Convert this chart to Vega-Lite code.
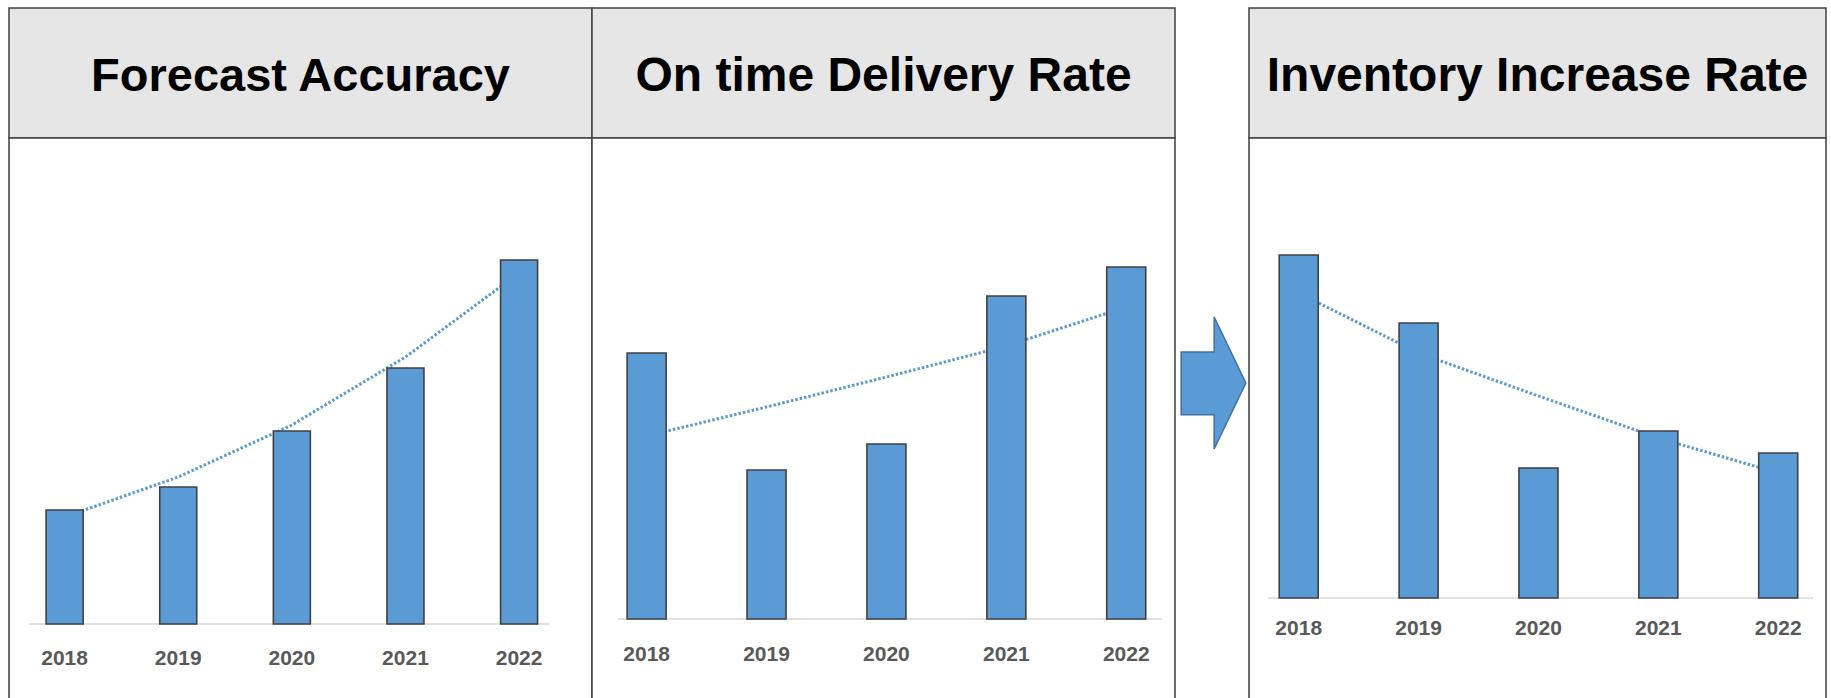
{
  "$schema": "https://vega.github.io/schema/vega-lite/v6.json",
  "padding": {"left": 8, "top": 7, "right": 0, "bottom": 0},
  "background": "white",
  "columns": 4,
  "spacing": 0,
  "bounds": "flush",
  "align": "each",
  "config": {"view": {"stroke": null}},
  "datasets": {
    "fa": [
      {"year": 2018, "value": 114, "trend": 107},
      {"year": 2019, "value": 137, "trend": 147},
      {"year": 2020, "value": 193, "trend": 199},
      {"year": 2021, "value": 256, "trend": 267},
      {"year": 2022, "value": 364, "trend": 351}
    ],
    "otd": [
      {"year": 2018, "value": 266, "trend": 183},
      {"year": 2019, "value": 149, "trend": 212},
      {"year": 2020, "value": 175, "trend": 242},
      {"year": 2021, "value": 323, "trend": 273},
      {"year": 2022, "value": 352, "trend": 312}
    ],
    "inv": [
      {"year": 2018, "value": 343, "trend": 305},
      {"year": 2019, "value": 275, "trend": 245},
      {"year": 2020, "value": 130, "trend": 202},
      {"year": 2021, "value": 167, "trend": 160},
      {"year": 2022, "value": 145, "trend": 125}
    ]
  },
  "concat": [
    {
      "width": 583, "height": 130,
      "view": {"fill": "#e7e6e6", "stroke": "#404040", "strokeWidth": 1.5},
      "data": {"values": [{"t": "Forecast Accuracy"}]},
      "mark": {"type": "text", "font": "Liberation Sans", "fontWeight": "bold", "fontSize": 47, "color": "#000000", "baseline": "middle", "align": "center", "dy": 4},
      "encoding": {"text": {"field": "t", "type": "nominal"}}
    },
    {
      "width": 583, "height": 130,
      "view": {"fill": "#e7e6e6", "stroke": "#404040", "strokeWidth": 1.5},
      "data": {"values": [{"t": "On time Delivery Rate"}]},
      "mark": {"type": "text", "font": "Liberation Sans", "fontWeight": "bold", "fontSize": 48, "color": "#000000", "baseline": "middle", "align": "center", "dy": 4},
      "encoding": {"text": {"field": "t", "type": "nominal"}}
    },
    {
      "width": 74, "height": 130,
      "view": {"stroke": null},
      "data": {"values": [{"t": ""}]},
      "mark": {"type": "text", "opacity": 0},
      "encoding": {"text": {"field": "t", "type": "nominal"}}
    },
    {
      "width": 577, "height": 130,
      "view": {"fill": "#e7e6e6", "stroke": "#404040", "strokeWidth": 1.5},
      "data": {"values": [{"t": "Inventory Increase Rate"}]},
      "mark": {"type": "text", "font": "Liberation Sans", "fontWeight": "bold", "fontSize": 48, "color": "#000000", "baseline": "middle", "align": "center", "dy": 4},
      "encoding": {"text": {"field": "t", "type": "nominal"}}
    },
    {
      "width": 583, "height": 561,
      "view": {"fill": "white", "stroke": "#404040", "strokeWidth": 1.5},
      "data": {"name": "fa"},
      "layer": [
        {
          "data": {"values": [{"k": "axis"}]},
          "mark": {"type": "rule", "color": "#d9d9d9", "strokeWidth": 1.5},
          "encoding": {
            "x": {"datum": 2017.684, "type": "quantitative", "scale": {"domain": [2017.5545, 2022.5978], "nice": false, "zero": false}, "axis": null},
            "x2": {"datum": 2022.269},
            "y": {"datum": 0, "type": "quantitative", "scale": {"domain": [-75, 486], "nice": false, "zero": false}, "axis": null}
          }
        },
        {
          "mark": {"type": "line", "color": "#5b9bd5", "strokeWidth": 3, "strokeDash": [2.5, 2]},
          "encoding": {
            "x": {"field": "year", "type": "quantitative"},
            "y": {"field": "trend", "type": "quantitative"}
          }
        },
        {
          "mark": {"type": "bar", "orient": "vertical", "width": 37, "fill": "#5b9bd5", "stroke": "#404040", "strokeWidth": 1.6},
          "encoding": {
            "x": {"field": "year", "type": "quantitative"},
            "y": {"field": "value", "type": "quantitative"}
          }
        },
        {
          "mark": {"type": "text", "font": "Liberation Sans", "fontWeight": "bold", "fontSize": 21, "color": "#595959", "baseline": "middle", "align": "center"},
          "encoding": {
            "x": {"field": "year", "type": "quantitative"},
            "y": {"datum": -35, "type": "quantitative"},
            "text": {"field": "year", "type": "nominal"}
          }
        }
      ]
    },
    {
      "width": 583, "height": 561,
      "view": {"fill": "white", "stroke": "#404040", "strokeWidth": 1.5},
      "data": {"name": "otd"},
      "layer": [
        {
          "data": {"values": [{"k": "axis"}]},
          "mark": {"type": "rule", "color": "#d9d9d9", "strokeWidth": 1.5},
          "encoding": {
            "x": {"datum": 2017.758, "type": "quantitative", "scale": {"domain": [2017.586, 2022.365], "nice": false, "zero": false}, "axis": null},
            "x2": {"datum": 2022.299},
            "y": {"datum": 0, "type": "quantitative", "scale": {"domain": [-80, 481], "nice": false, "zero": false}, "axis": null}
          }
        },
        {
          "mark": {"type": "line", "color": "#5b9bd5", "strokeWidth": 3, "strokeDash": [2.5, 2]},
          "encoding": {
            "x": {"field": "year", "type": "quantitative"},
            "y": {"field": "trend", "type": "quantitative"}
          }
        },
        {
          "mark": {"type": "bar", "orient": "vertical", "width": 39, "fill": "#5b9bd5", "stroke": "#404040", "strokeWidth": 1.6},
          "encoding": {
            "x": {"field": "year", "type": "quantitative"},
            "y": {"field": "value", "type": "quantitative"}
          }
        },
        {
          "mark": {"type": "text", "font": "Liberation Sans", "fontWeight": "bold", "fontSize": 21, "color": "#595959", "baseline": "middle", "align": "center"},
          "encoding": {
            "x": {"field": "year", "type": "quantitative"},
            "y": {"datum": -36, "type": "quantitative"},
            "text": {"field": "year", "type": "nominal"}
          }
        }
      ]
    },
    {
      "width": 74, "height": 561,
      "view": {"stroke": null},
      "data": {"values": [{"k": "arrow"}]},
      "mark": {"type": "point", "shape": "M-0.49,-0.47L0.01,-0.47L0.01,-1L0.49,0L0.01,1L0.01,0.48L-0.49,0.48Z", "size": 17424, "filled": true, "fill": "#5b9bd5", "stroke": "#41719c", "strokeWidth": 1.5, "opacity": 1, "fillOpacity": 1, "strokeOpacity": 1},
      "encoding": {
        "x": {"datum": 0, "type": "quantitative", "scale": {"domain": [-38.5, 35.5], "nice": false, "zero": false}, "axis": null},
        "y": {"datum": 0, "type": "quantitative", "scale": {"domain": [-316, 245], "nice": false, "zero": false}, "axis": null}
      }
    },
    {
      "width": 577, "height": 561,
      "view": {"fill": "white", "stroke": "#404040", "strokeWidth": 1.5},
      "data": {"name": "inv"},
      "layer": [
        {
          "data": {"values": [{"k": "axis"}]},
          "mark": {"type": "rule", "color": "#d9d9d9", "strokeWidth": 1.5},
          "encoding": {
            "x": {"datum": 2017.742, "type": "quantitative", "scale": {"domain": [2017.627, 2022.357], "nice": false, "zero": false}, "axis": null},
            "x2": {"datum": 2022.291},
            "y": {"datum": 0, "type": "quantitative", "scale": {"domain": [-101, 460], "nice": false, "zero": false}, "axis": null}
          }
        },
        {
          "mark": {"type": "line", "color": "#5b9bd5", "strokeWidth": 3, "strokeDash": [2.5, 2]},
          "encoding": {
            "x": {"field": "year", "type": "quantitative"},
            "y": {"field": "trend", "type": "quantitative"}
          }
        },
        {
          "mark": {"type": "bar", "orient": "vertical", "width": 39, "fill": "#5b9bd5", "stroke": "#404040", "strokeWidth": 1.6},
          "encoding": {
            "x": {"field": "year", "type": "quantitative"},
            "y": {"field": "value", "type": "quantitative"}
          }
        },
        {
          "mark": {"type": "text", "font": "Liberation Sans", "fontWeight": "bold", "fontSize": 21, "color": "#595959", "baseline": "middle", "align": "center"},
          "encoding": {
            "x": {"field": "year", "type": "quantitative"},
            "y": {"datum": -31, "type": "quantitative"},
            "text": {"field": "year", "type": "nominal"}
          }
        }
      ]
    }
  ]
}
